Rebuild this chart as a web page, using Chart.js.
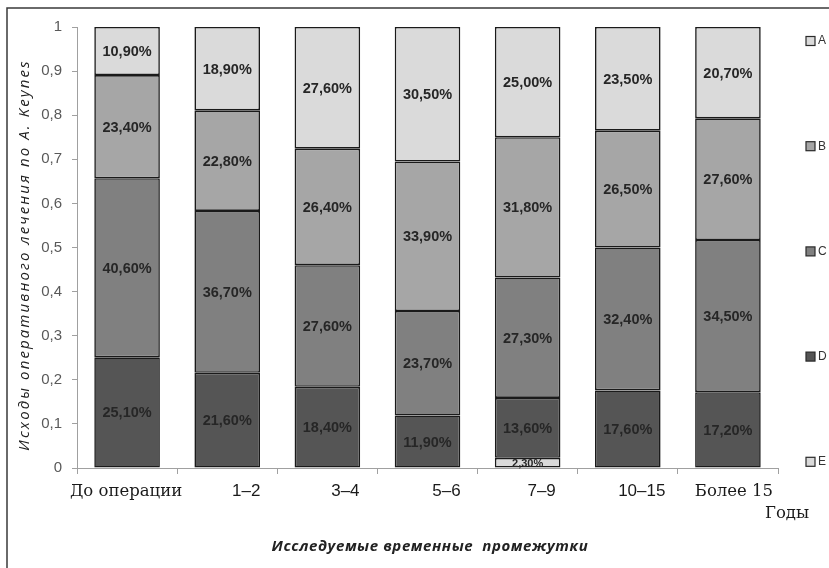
<!DOCTYPE html>
<html>
<head>
<meta charset="utf-8">
<script src="https://cdn.jsdelivr.net/npm/chart.js@4.4.1/dist/chart.umd.min.js"></script>
<style>
  html, body { margin: 0; padding: 0; background: #fff; }
  #wrap { width: 829px; height: 568px; position: relative; }
</style>
</head>
<body>
<div id="wrap"><canvas id="c" width="829" height="568"></canvas></div>
<script>
// Time periods after surgery
const categories = ['До операции', '1–2', '3–4', '5–6', '7–9', '10–15', 'Более 15'];

// Share of outcomes by A. Keynes grade (fractions of 1)
const seriesA = [0.109, 0.189, 0.276, 0.305, 0.250, 0.235, 0.207];
const seriesB = [0.234, 0.228, 0.264, 0.339, 0.318, 0.265, 0.276];
const seriesC = [0.406, 0.367, 0.276, 0.237, 0.273, 0.324, 0.345];
const seriesD = [0.251, 0.216, 0.184, 0.119, 0.136, 0.176, 0.172];
const seriesE = [null, null, null, null, 0.023, null, null];

const seriesNames = ['E', 'D', 'C', 'B', 'A'];
const yTickLabels = ['0', '0,1', '0,2', '0,3', '0,4', '0,5', '0,6', '0,7', '0,8', '0,9', '1'];

const yTitle = 'Исходы оперативного лечения по А. Keynes';
const xTitle = 'Исследуемые временные  промежутки';
const unitLabel = 'Годы';

const colors = { A: '#dadada', B: '#a6a6a6', C: '#808080', D: '#555555', E: '#dadada' };
const serifLabels = new Set([0, 6]);
// small horizontal nudges of the category captions
const captionShift = [-1, 19, 18, 19, 14, 14, 6];

const fmtPct = v => (v * 100).toFixed(2).replace('.', ',') + '%';

const series = { A: seriesA, B: seriesB, C: seriesC, D: seriesD, E: seriesE };
const datasets = seriesNames.map(name => ({
  label: name,
  data: series[name],
  backgroundColor: colors[name],
  borderColor: '#1a1a1a',
  borderWidth: 1.6,
  borderSkipped: false,
  barPercentage: 0.655,
  categoryPercentage: 1.0
}));

const decorPlugin = {
  id: 'decor',
  beforeDraw(chart) {
    const ctx = chart.ctx;
    ctx.save();
    ctx.strokeStyle = '#3a3a3a';
    ctx.lineWidth = 1.5;
    ctx.beginPath();
    ctx.moveTo(7, 568);
    ctx.lineTo(7, 8);
    ctx.lineTo(829, 8);
    ctx.stroke();
    ctx.restore();
  },
  afterDatasetsDraw(chart) {
    const ctx = chart.ctx;
    ctx.save();
    ctx.textAlign = 'center';
    ctx.textBaseline = 'middle';
    ctx.fillStyle = '#262626';
    chart.data.datasets.forEach((ds, di) => {
      const meta = chart.getDatasetMeta(di);
      meta.data.forEach((el, i) => {
        const v = ds.data[i];
        if (v == null) return;
        const h = Math.abs(el.base - el.y);
        ctx.font = h < 15 ? 'bold 11px "Liberation Sans", Arial, sans-serif'
                          : 'bold 14.5px "Liberation Sans", Arial, sans-serif';
        ctx.fillText(fmtPct(v), el.x, (el.y + el.base) / 2 + 1);
      });
    });
    ctx.restore();
  },
  afterDraw(chart) {
    const ctx = chart.ctx;
    const xs = chart.scales.x;
    const area = chart.chartArea;
    ctx.save();
    // category captions
    ctx.fillStyle = '#1a1a1a';
    ctx.textAlign = 'center';
    ctx.textBaseline = 'alphabetic';
    categories.forEach((c, i) => {
      ctx.font = serifLabels.has(i) ? '16.5px "DejaVu Serif", serif'
                                    : '17px "Liberation Sans", Arial, sans-serif';
      ctx.fillText(c, xs.getPixelForValue(i) + captionShift[i], area.bottom + 28);
    });
    // unit caption
    ctx.font = '16.5px "DejaVu Serif", serif';
    ctx.textAlign = 'left';
    ctx.fillText(unitLabel, 765, area.bottom + 50);
    // x axis title
    ctx.font = 'italic bold 15px "Open Sans", sans-serif';
    ctx.letterSpacing = '0.6px';
    ctx.textAlign = 'center';
    ctx.fillStyle = '#222';
    ctx.fillText(xTitle, 430, 551);
    // y axis title
    ctx.save();
    ctx.translate(25, 255);
    ctx.rotate(-Math.PI / 2);
    ctx.font = 'italic 15px "Open Sans", sans-serif';
    ctx.letterSpacing = '2.1px';
    ctx.textBaseline = 'middle';
    ctx.fillText(yTitle, 0, 0);
    ctx.restore();
    ctx.letterSpacing = '0px';
    // legend, A on top down to E
    const order = [...seriesNames].reverse();
    ctx.font = '12px "Liberation Sans", Arial, sans-serif';
    ctx.textAlign = 'left';
    ctx.textBaseline = 'middle';
    order.forEach((name, k) => {
      const y = 41 + k * 105.2;
      ctx.fillStyle = colors[name];
      ctx.fillRect(806, y - 4.5, 9, 9);
      ctx.strokeStyle = '#2a2a2a';
      ctx.lineWidth = 1.2;
      ctx.strokeRect(806, y - 4.5, 9, 9);
      ctx.fillStyle = '#333';
      ctx.fillText(name, 818, y);
    });
    ctx.restore();
  }
};

new Chart(document.getElementById('c'), {
  type: 'bar',
  data: { labels: categories, datasets },
  plugins: [decorPlugin],
  options: {
    responsive: false,
    animation: false,
    layout: { padding: { top: 27, right: 51, left: 0, bottom: 0 } },
    plugins: { legend: { display: false }, tooltip: { enabled: false } },
    scales: {
      x: {
        stacked: true,
        grid: { drawOnChartArea: false, drawTicks: true, tickLength: 6, color: '#a0a0a0', offset: true },
        border: { color: '#a0a0a0', width: 1 },
        ticks: { display: false },
        afterFit: s => { s.height = 100; }
      },
      y: {
        stacked: true,
        min: 0,
        max: 1,
        ticks: {
          stepSize: 0.1,
          padding: 10,
          color: '#595959',
          font: { family: '"Liberation Sans", Arial, sans-serif', size: 15 },
          callback: (v, i) => yTickLabels[i]
        },
        grid: { drawOnChartArea: false, drawTicks: true, tickLength: 5, color: '#a0a0a0' },
        border: { color: '#a0a0a0', width: 1 },
        afterFit: s => { s.width = 77; }
      }
    }
  }
});
</script>
</body>
</html>
